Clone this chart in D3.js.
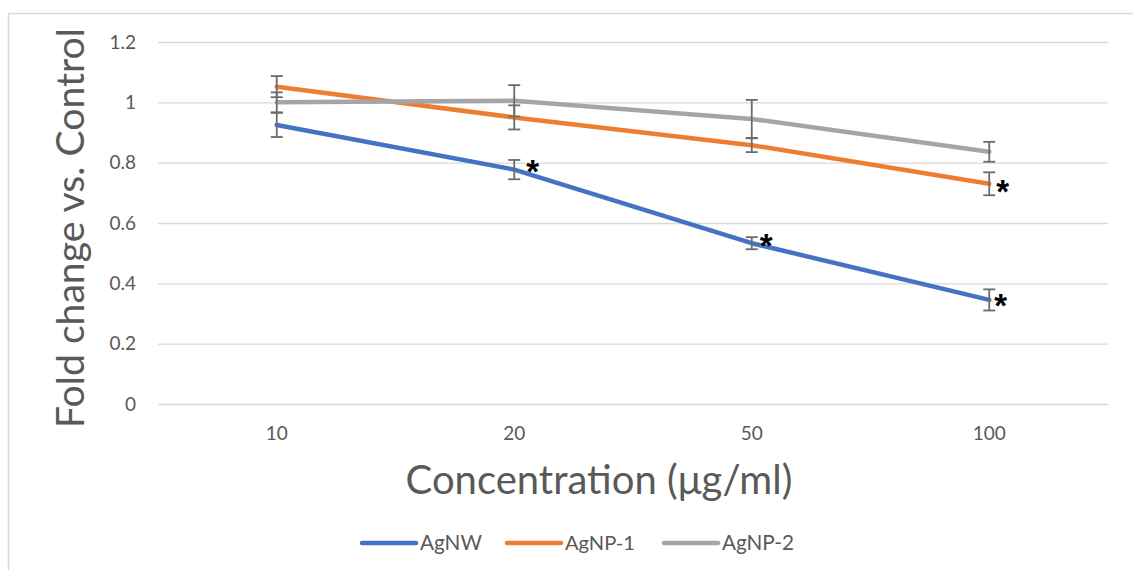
<!DOCTYPE html>
<html>
<head>
<meta charset="utf-8">
<script src="https://cdn.jsdelivr.net/npm/d3@7/dist/d3.min.js"></script>
<style>
  html, body { margin: 0; padding: 0; background: #fff; }
  svg { display: block; font-family: Lato, "Open Sans", sans-serif; }
</style>
</head>
<body>
<svg id="chart" width="1133" height="570"></svg>
<script>
// Concentrations tested (µg/ml)
const categories = ["10", "20", "50", "100"];
const seriesNames = ["AgNW", "AgNP-1", "AgNP-2"];
// Mean fold change vs. control
const agnwValues  = [0.925, 0.777, 0.533, 0.345];
const agnp1Values = [1.052, 0.950, 0.858, 0.730];
const agnp2Values = [1.000, 1.005, 0.945, 0.836];
// Error bar half-widths
const agnwErrors  = [0.040, 0.032, 0.020, 0.035];
const agnp1Errors = [0.035, 0.040, 0.023, 0.038];
const agnp2Errors = [0.033, 0.052, 0.063, 0.033];
// Points flagged as significant (*)
const agnwSignificant  = [false, true, true, true];
const agnp1Significant = [false, false, false, true];
const agnp2Significant = [false, false, false, false];
const yTicks = [0, 0.2, 0.4, 0.6, 0.8, 1, 1.2];

const colors = ["#4472C4", "#ED7D31", "#A5A5A5"];
const series = [
  { name: seriesNames[0], values: agnwValues,  errors: agnwErrors,  sig: agnwSignificant,  color: colors[0] },
  { name: seriesNames[1], values: agnp1Values, errors: agnp1Errors, sig: agnp1Significant, color: colors[1] },
  { name: seriesNames[2], values: agnp2Values, errors: agnp2Errors, sig: agnp2Significant, color: colors[2] }
];

const svg = d3.select("#chart");
const textColor = "#595959";

// Chart area border
svg.append("rect")
  .attr("x", 8.5).attr("y", 13.5)
  .attr("width", 1140).attr("height", 570)
  .attr("fill", "none").attr("stroke", "#D9D9D9").attr("stroke-width", 1.5);

const plot = { left: 158, right: 1108, top: 42, bottom: 404 };

const x = d3.scaleBand().domain(categories).range([plot.left, plot.right]);
const xc = d => x(d) + x.bandwidth() / 2;
const y = d3.scaleLinear().domain([0, 1.2]).range([plot.bottom, plot.top]);

// Gridlines and value labels
const yAxis = d3.axisLeft(y).tickValues(yTicks).tickFormat(d3.format("~g"))
  .tickSize(-(plot.right - plot.left)).tickPadding(22);
const gy = svg.append("g").attr("transform", `translate(${plot.left},0)`).call(yAxis);
gy.select(".domain").remove();
gy.selectAll(".tick line").attr("stroke", "#D9D9D9").attr("stroke-width", 1.3);
gy.selectAll(".tick text").attr("fill", textColor).attr("font-size", 19)
  .attr("font-family", "Lato, sans-serif");

// Category axis (labels only)
const xAxis = d3.axisBottom(x).tickSize(0).tickPadding(23);
const gx = svg.append("g").attr("transform", `translate(0,${plot.bottom})`).call(xAxis);
gx.select(".domain").remove();
gx.selectAll(".tick text").attr("fill", textColor).attr("font-size", 19)
  .attr("font-family", "Lato, sans-serif");

// Series lines
const line = d3.line().x((d, i) => xc(categories[i])).y(d => y(d));
series.forEach(s => {
  svg.append("path")
    .datum(s.values)
    .attr("d", line)
    .attr("fill", "none")
    .attr("stroke", s.color)
    .attr("stroke-width", 4.5)
    .attr("stroke-linecap", "round")
    .attr("stroke-linejoin", "round");
});

// Error bars
const capHalf = 6;
const errG = svg.append("g").attr("stroke", "#6B6B6B").attr("stroke-width", 1.8);
series.forEach(s => {
  s.values.forEach((v, i) => {
    const cx = xc(categories[i]);
    const hi = y(v + s.errors[i]), lo = y(v - s.errors[i]);
    errG.append("line").attr("x1", cx).attr("x2", cx).attr("y1", hi).attr("y2", lo);
    errG.append("line").attr("x1", cx - capHalf).attr("x2", cx + capHalf).attr("y1", hi).attr("y2", hi);
    errG.append("line").attr("x1", cx - capHalf).attr("x2", cx + capHalf).attr("y1", lo).attr("y2", lo);
  });
});

// Significance markers, nudged beside each error bar
const starNudge = { "AgNW": [[0, 0], [12, -6], [8, -5], [5, -2]], "AgNP-1": [[0, 0], [0, 0], [0, 0], [7, 0]] };
series.forEach(s => {
  s.values.forEach((v, i) => {
    if (!s.sig[i]) return;
    const [dx, dy] = (starNudge[s.name] || [])[i] || [8, 0];
    svg.append("text")
      .attr("x", xc(categories[i]) + dx)
      .attr("y", y(v) + dy + 19)
      .attr("font-size", 33)
      .attr("font-weight", "bold")
      .attr("font-family", "Liberation Sans, Arial, sans-serif")
      .attr("fill", "#000")
      .text("*");
  });
});

// Fit a text element to a target width
function fitWidth(sel, target) {
  const w = sel.node().getComputedTextLength();
  const fs = parseFloat(sel.attr("font-size"));
  sel.attr("font-size", fs * target / w);
}

// Axis titles
const yTitle = svg.append("text")
  .attr("transform", "translate(84,228) rotate(-90)")
  .attr("text-anchor", "middle")
  .attr("fill", textColor)
  .attr("font-size", 34)
  .text("Fold change vs. Control");
fitWidth(yTitle, 400);

const xTitle = svg.append("text")
  .attr("x", 599).attr("y", 494)
  .attr("text-anchor", "middle")
  .attr("fill", textColor)
  .attr("font-size", 34)
  .text("Concentration (μg/ml)");
fitWidth(xTitle, 387);

// Legend
const legendX = [362, 507, 664];
const legendTextWidth = [62, 70, 72];
const legend = svg.append("g");
series.forEach((s, i) => {
  const g = legend.append("g").attr("transform", `translate(${legendX[i]},543)`);
  g.append("line").attr("x1", 0).attr("x2", 54).attr("y1", 0).attr("y2", 0)
    .attr("stroke", s.color).attr("stroke-width", 4.5).attr("stroke-linecap", "round");
  const t = g.append("text").attr("x", 58).attr("y", 7)
    .attr("fill", textColor).attr("font-size", 19).text(s.name);
  fitWidth(t, legendTextWidth[i]);
});
</script>
</body>
</html>
